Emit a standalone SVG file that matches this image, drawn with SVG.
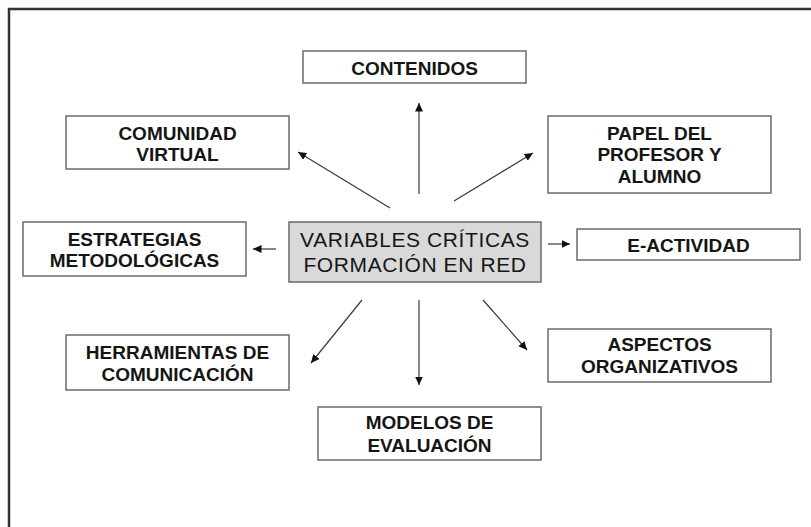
<svg xmlns="http://www.w3.org/2000/svg" width="811" height="527" viewBox="0 0 811 527">
<defs>
<style>
.box{fill:#ffffff;stroke:#6a6a6a;stroke-width:1.5}
.center{fill:#d9d9d9;stroke:#6a6a6a;stroke-width:1.5}
.lbl{font-family:"Liberation Sans",Arial,sans-serif;font-weight:bold;font-size:19px;fill:#151515;text-anchor:middle}
.clbl{font-family:"Liberation Sans",Arial,sans-serif;font-size:21px;letter-spacing:0.6px;fill:#151515;text-anchor:middle}
.conn{stroke:#3a3a3a;stroke-width:1.2;fill:none;marker-end:url(#arr)}
</style>
<marker id="arr" markerUnits="userSpaceOnUse" markerWidth="10" markerHeight="9" refX="8.5" refY="4" orient="auto">
<path d="M0,0 L8.5,4 L0,8 z" fill="#111111"/>
</marker>
</defs>
<rect x="0" y="0" width="811" height="527" fill="#ffffff"/>
<path d="M9,528 L9,9 L812,9" fill="none" stroke="#333333" stroke-width="2.5"/>

<g id="connectors">
<line class="conn" x1="419" y1="194" x2="419" y2="103"/>
<line class="conn" x1="390" y1="208" x2="298" y2="152"/>
<line class="conn" x1="454" y1="201" x2="533" y2="153"/>
<line class="conn" x1="276" y1="249" x2="253" y2="249"/>
<line class="conn" x1="548" y1="244" x2="570" y2="244"/>
<line class="conn" x1="362" y1="300" x2="311" y2="363"/>
<line class="conn" x1="419" y1="300" x2="419" y2="385"/>
<line class="conn" x1="483" y1="300" x2="527" y2="350"/>
</g>

<g id="node-center">
<rect class="center" x="289" y="222" width="252" height="60"/>
<text class="clbl" x="415" y="247">VARIABLES CRÍTICAS</text>
<text class="clbl" x="415" y="272">FORMACIÓN EN RED</text>
</g>

<g id="node-contenidos">
<rect class="box" x="303" y="51" width="223" height="32"/>
<text class="lbl" x="414.5" y="75">CONTENIDOS</text>
</g>

<g id="node-comunidad">
<rect class="box" x="66" y="116" width="223" height="53"/>
<text class="lbl" x="177.5" y="140">COMUNIDAD</text>
<text class="lbl" x="177.5" y="161">VIRTUAL</text>
</g>

<g id="node-papel">
<rect class="box" x="548" y="116" width="223" height="77"/>
<text class="lbl" x="659.5" y="139.5">PAPEL DEL</text>
<text class="lbl" x="659.5" y="161">PROFESOR Y</text>
<text class="lbl" x="659.5" y="182.5">ALUMNO</text>
</g>

<g id="node-estrategias">
<rect class="box" x="23" y="222" width="223" height="54"/>
<text class="lbl" x="134.5" y="245.5">ESTRATEGIAS</text>
<text class="lbl" x="134.5" y="266.5">METODOLÓGICAS</text>
</g>

<g id="node-eactividad">
<rect class="box" x="577" y="229" width="223" height="31"/>
<text class="lbl" x="688.5" y="252">E-ACTIVIDAD</text>
</g>

<g id="node-herramientas">
<rect class="box" x="66" y="335" width="223" height="55"/>
<text class="lbl" x="177.5" y="358.5">HERRAMIENTAS DE</text>
<text class="lbl" x="177.5" y="380.5">COMUNICACIÓN</text>
</g>

<g id="node-aspectos">
<rect class="box" x="548" y="329" width="223" height="53"/>
<text class="lbl" x="659.5" y="351">ASPECTOS</text>
<text class="lbl" x="659.5" y="373">ORGANIZATIVOS</text>
</g>

<g id="node-modelos">
<rect class="box" x="318" y="407" width="223" height="53"/>
<text class="lbl" x="429.5" y="429">MODELOS DE</text>
<text class="lbl" x="429.5" y="452">EVALUACIÓN</text>
</g>
</svg>
